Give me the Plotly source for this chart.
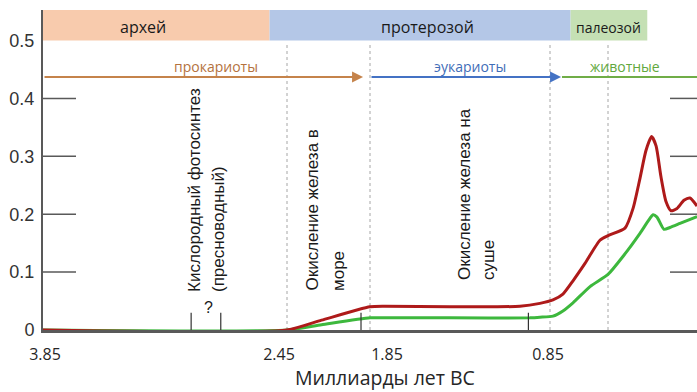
import numpy as np
import plotly.graph_objects as go

# ---------------- data ----------------
# schematic (non-linear) time axis: Ga anchors and where they sit horizontally
GA_ANCHORS = [3.85, 2.45, 1.85, 0.85, 0.54, 0.0]
POS_ANCHORS = [43, 287, 370, 550, 608, 709]

X_TICK_TEXT = ["3.85", "2.45", "1.85", "0.85"]
Y_TICK_VALS = [0, 0.1, 0.2, 0.3, 0.4, 0.5]
Y_TICK_TEXT = ["0", "0.1", "0.2", "0.3", "0.4", "0.5"]

RED_GA = [3.85, 2.45, 2.20, 1.85, 1.767, 1.406, 1.017, 0.906, 0.834,
          0.781, 0.727, 0.663, 0.583, 0.54, 0.449, 0.406, 0.369, 0.337, 0.307,
          0.283, 0.257, 0.230, 0.203, 0.171, 0.134, 0.102, 0.064]
RED_VAL = [0, 0, 0.017, 0.040, 0.041, 0.040, 0.041, 0.046, 0.052,
           0.062, 0.085, 0.115, 0.155, 0.163, 0.176, 0.21, 0.262, 0.31, 0.334,
           0.318, 0.265, 0.222, 0.206, 0.210, 0.224, 0.228, 0.214]

GREEN_GA = [3.85, 2.45, 2.20, 1.85, 1.767, 1.406, 0.961, 0.906, 0.834,
            0.781, 0.727, 0.636, 0.54, 0.46, 0.369, 0.326, 0.299, 0.278, 0.241,
            0.209, 0.155, 0.064]
GREEN_VAL = [0, 0, 0.009, 0.021, 0.021, 0.021, 0.021, 0.022, 0.024,
             0.033, 0.047, 0.075, 0.096, 0.127, 0.167, 0.188, 0.199, 0.195, 0.174,
             0.177, 0.184, 0.196]

ERA_NAMES = ["архей", "протерозой", "палеозой"]
ERA_START = [3.85, 2.55, 0.74]
ERA_END = [2.55, 0.74, 0.33]

LINEAGES = ["прокариоты", "эукариоты", "животные"]
LIN_START = [3.85, 1.85, 0.786]
LIN_END = [1.90, 0.791, 0.064]
LIN_LEVEL = 0.437

BOUNDARY_GA = [2.45, 1.85, 0.85, 0.54]
MARKER_GA = [3.0, 2.83, 1.915, 0.97]

EVENT_TEXT = ["Кислородный фотосинтез", "(пресноводный)",
              "Окисление железа в", "море",
              "Окисление железа на", "суше"]
AXIS_TITLE = "Миллиарды лет BC"

# ---------------- styling / layout ----------------
X_TICK_POS = [45, 279, 387, 548]
ERA_COLORS = ["#F8CBAD", "#B4C7E7", "#C5E0B4"]
ERA_LABEL_X = [143, 427, 608]
ERA_FONT = [16, 16, 14]
LIN_LINE_COLORS = ["#C5834B", "#4472C4", "#70AD47"]
LIN_TEXT_COLORS = ["#B4723E", "#3F6DB8", "#62A83D"]
LIN_LABEL_X = [216, 470, 625]
LIN_ARROW = [True, True, False]
EVENT_X = [194, 218, 312, 338, 464, 488]
EVENT_BOTTOM_PX = [294, 294, 293, 293, 282, 282]

PLOT_TOP, PLOT_BOTTOM = 10, 330
Y_MAX = 0.5527


def pos(ga):
    return np.interp(-np.asarray(ga, float), -np.array(GA_ANCHORS), np.array(POS_ANCHORS, float))


def yval(py):
    return (PLOT_BOTTOM - py) / (PLOT_BOTTOM - PLOT_TOP) * Y_MAX


fig = go.Figure()

fig.add_trace(go.Scatter(x=pos(GREEN_GA), y=GREEN_VAL, mode="lines",
                         line=dict(color="#3DB83D", width=3, shape="spline", smoothing=0.6),
                         hoverinfo="skip", cliponaxis=False))
fig.add_trace(go.Scatter(x=pos(RED_GA), y=RED_VAL, mode="lines",
                         line=dict(color="#AE1A1A", width=3, shape="spline", smoothing=0.6),
                         hoverinfo="skip", cliponaxis=False))

shapes = []
# era bands
for s, e, c in zip(ERA_START, ERA_END, ERA_COLORS):
    shapes.append(dict(type="rect", xref="x", yref="y", x0=float(pos(s)), x1=float(pos(e)),
                       y0=0.5, y1=Y_MAX, fillcolor=c, line=dict(width=0), layer="below"))
# boundary dotted lines
for b in BOUNDARY_GA:
    shapes.append(dict(type="line", xref="x", yref="y", x0=float(pos(b)), x1=float(pos(b)),
                       y0=0, y1=0.497, line=dict(color="#A6A6A6", width=1, dash="dot"),
                       layer="below"))
# small markers on the time axis
for m in MARKER_GA:
    shapes.append(dict(type="line", xref="x", yref="y", x0=float(pos(m)), x1=float(pos(m)),
                       y0=0, y1=0.03, line=dict(color="#333333", width=1.2)))
# inner ticks left and right
for v in Y_TICK_VALS[1:5]:
    shapes.append(dict(type="line", xref="paper", yref="y", x0=0, x1=33 / 654, y0=v, y1=v,
                       line=dict(color="#595959", width=1.5)))
    shapes.append(dict(type="line", xref="paper", yref="y", x0=627 / 654, x1=1, y0=v, y1=v,
                       line=dict(color="#595959", width=1.5)))
# green lineage line (no arrowhead)
for s, e, c, a in zip(LIN_START, LIN_END, LIN_LINE_COLORS, LIN_ARROW):
    if not a:
        shapes.append(dict(type="line", xref="x", yref="y", x0=float(pos(s)), x1=float(pos(e)),
                           y0=LIN_LEVEL, y1=LIN_LEVEL, line=dict(color=c, width=2.2)))

annotations = []
for name, x, fs in zip(ERA_NAMES, ERA_LABEL_X, ERA_FONT):
    annotations.append(dict(x=x, y=yval(27), xref="x", yref="y", text=name, showarrow=False,
                            font=dict(family="Open Sans", size=fs, color="#1a1a1a")))
for name, s, e, lc, tc, lx, a in zip(LINEAGES, LIN_START, LIN_END, LIN_LINE_COLORS,
                                     LIN_TEXT_COLORS, LIN_LABEL_X, LIN_ARROW):
    if a:
        annotations.append(dict(x=float(pos(e)), y=LIN_LEVEL, ax=float(pos(s)), ay=LIN_LEVEL,
                                xref="x", yref="y", axref="x", ayref="y", text="",
                                showarrow=True, arrowhead=2, arrowsize=1, arrowwidth=2.2,
                                arrowcolor=lc, standoff=0, startstandoff=0))
    annotations.append(dict(x=lx, y=yval(66), xref="x", yref="y", text=name, showarrow=False,
                            font=dict(family="Open Sans", size=14, color=tc)))
for t, x, by in zip(EVENT_TEXT, EVENT_X, EVENT_BOTTOM_PX):
    annotations.append(dict(x=x, y=yval(by), xref="x", yref="y", text=t, showarrow=False,
                            textangle=-90, xanchor="center", yanchor="bottom",
                            font=dict(family="Liberation Sans", size=17, color="#1a1a1a")))
annotations.append(dict(x=208, y=yval(307), xref="x", yref="y", text="?", showarrow=False,
                        font=dict(family="Liberation Sans", size=16, color="#1a1a1a")))
annotations.append(dict(x=(385 - 43) / 654, y=(PLOT_BOTTOM - 377) / (PLOT_BOTTOM - PLOT_TOP),
                        xref="paper", yref="paper", text=AXIS_TITLE,
                        showarrow=False, xanchor="center", yanchor="middle", borderpad=0,
                        font=dict(family="Open Sans", size=19.5, color="#262626")))

fig.update_layout(
    width=697, height=392,
    margin=dict(l=43, r=0, t=PLOT_TOP, b=392 - PLOT_BOTTOM),
    plot_bgcolor="white", paper_bgcolor="white",
    showlegend=False,
    shapes=shapes, annotations=annotations,
    xaxis=dict(range=[43, 697], showline=True, linecolor="#595959", linewidth=2.5,
               showgrid=False, zeroline=False, ticks="", automargin=False,
               layer="below traces",
               tickvals=X_TICK_POS, ticktext=X_TICK_TEXT, ticklabelstandoff=8,
               tickfont=dict(family="Open Sans", size=16, color="#262626")),
    yaxis=dict(range=[0, Y_MAX], showline=True, linecolor="#595959", linewidth=2,
               showgrid=False, zeroline=False, ticks="", automargin=False,
               layer="below traces",
               tickvals=Y_TICK_VALS, ticktext=Y_TICK_TEXT, ticklabelstandoff=3,
               tickfont=dict(family="Liberation Sans", size=18, color="#333333")),
)

fig.write_html("out.html", config={"displayModeBar": False},
               post_script="document.body.style.margin='0px';document.body.style.overflow='hidden';")
